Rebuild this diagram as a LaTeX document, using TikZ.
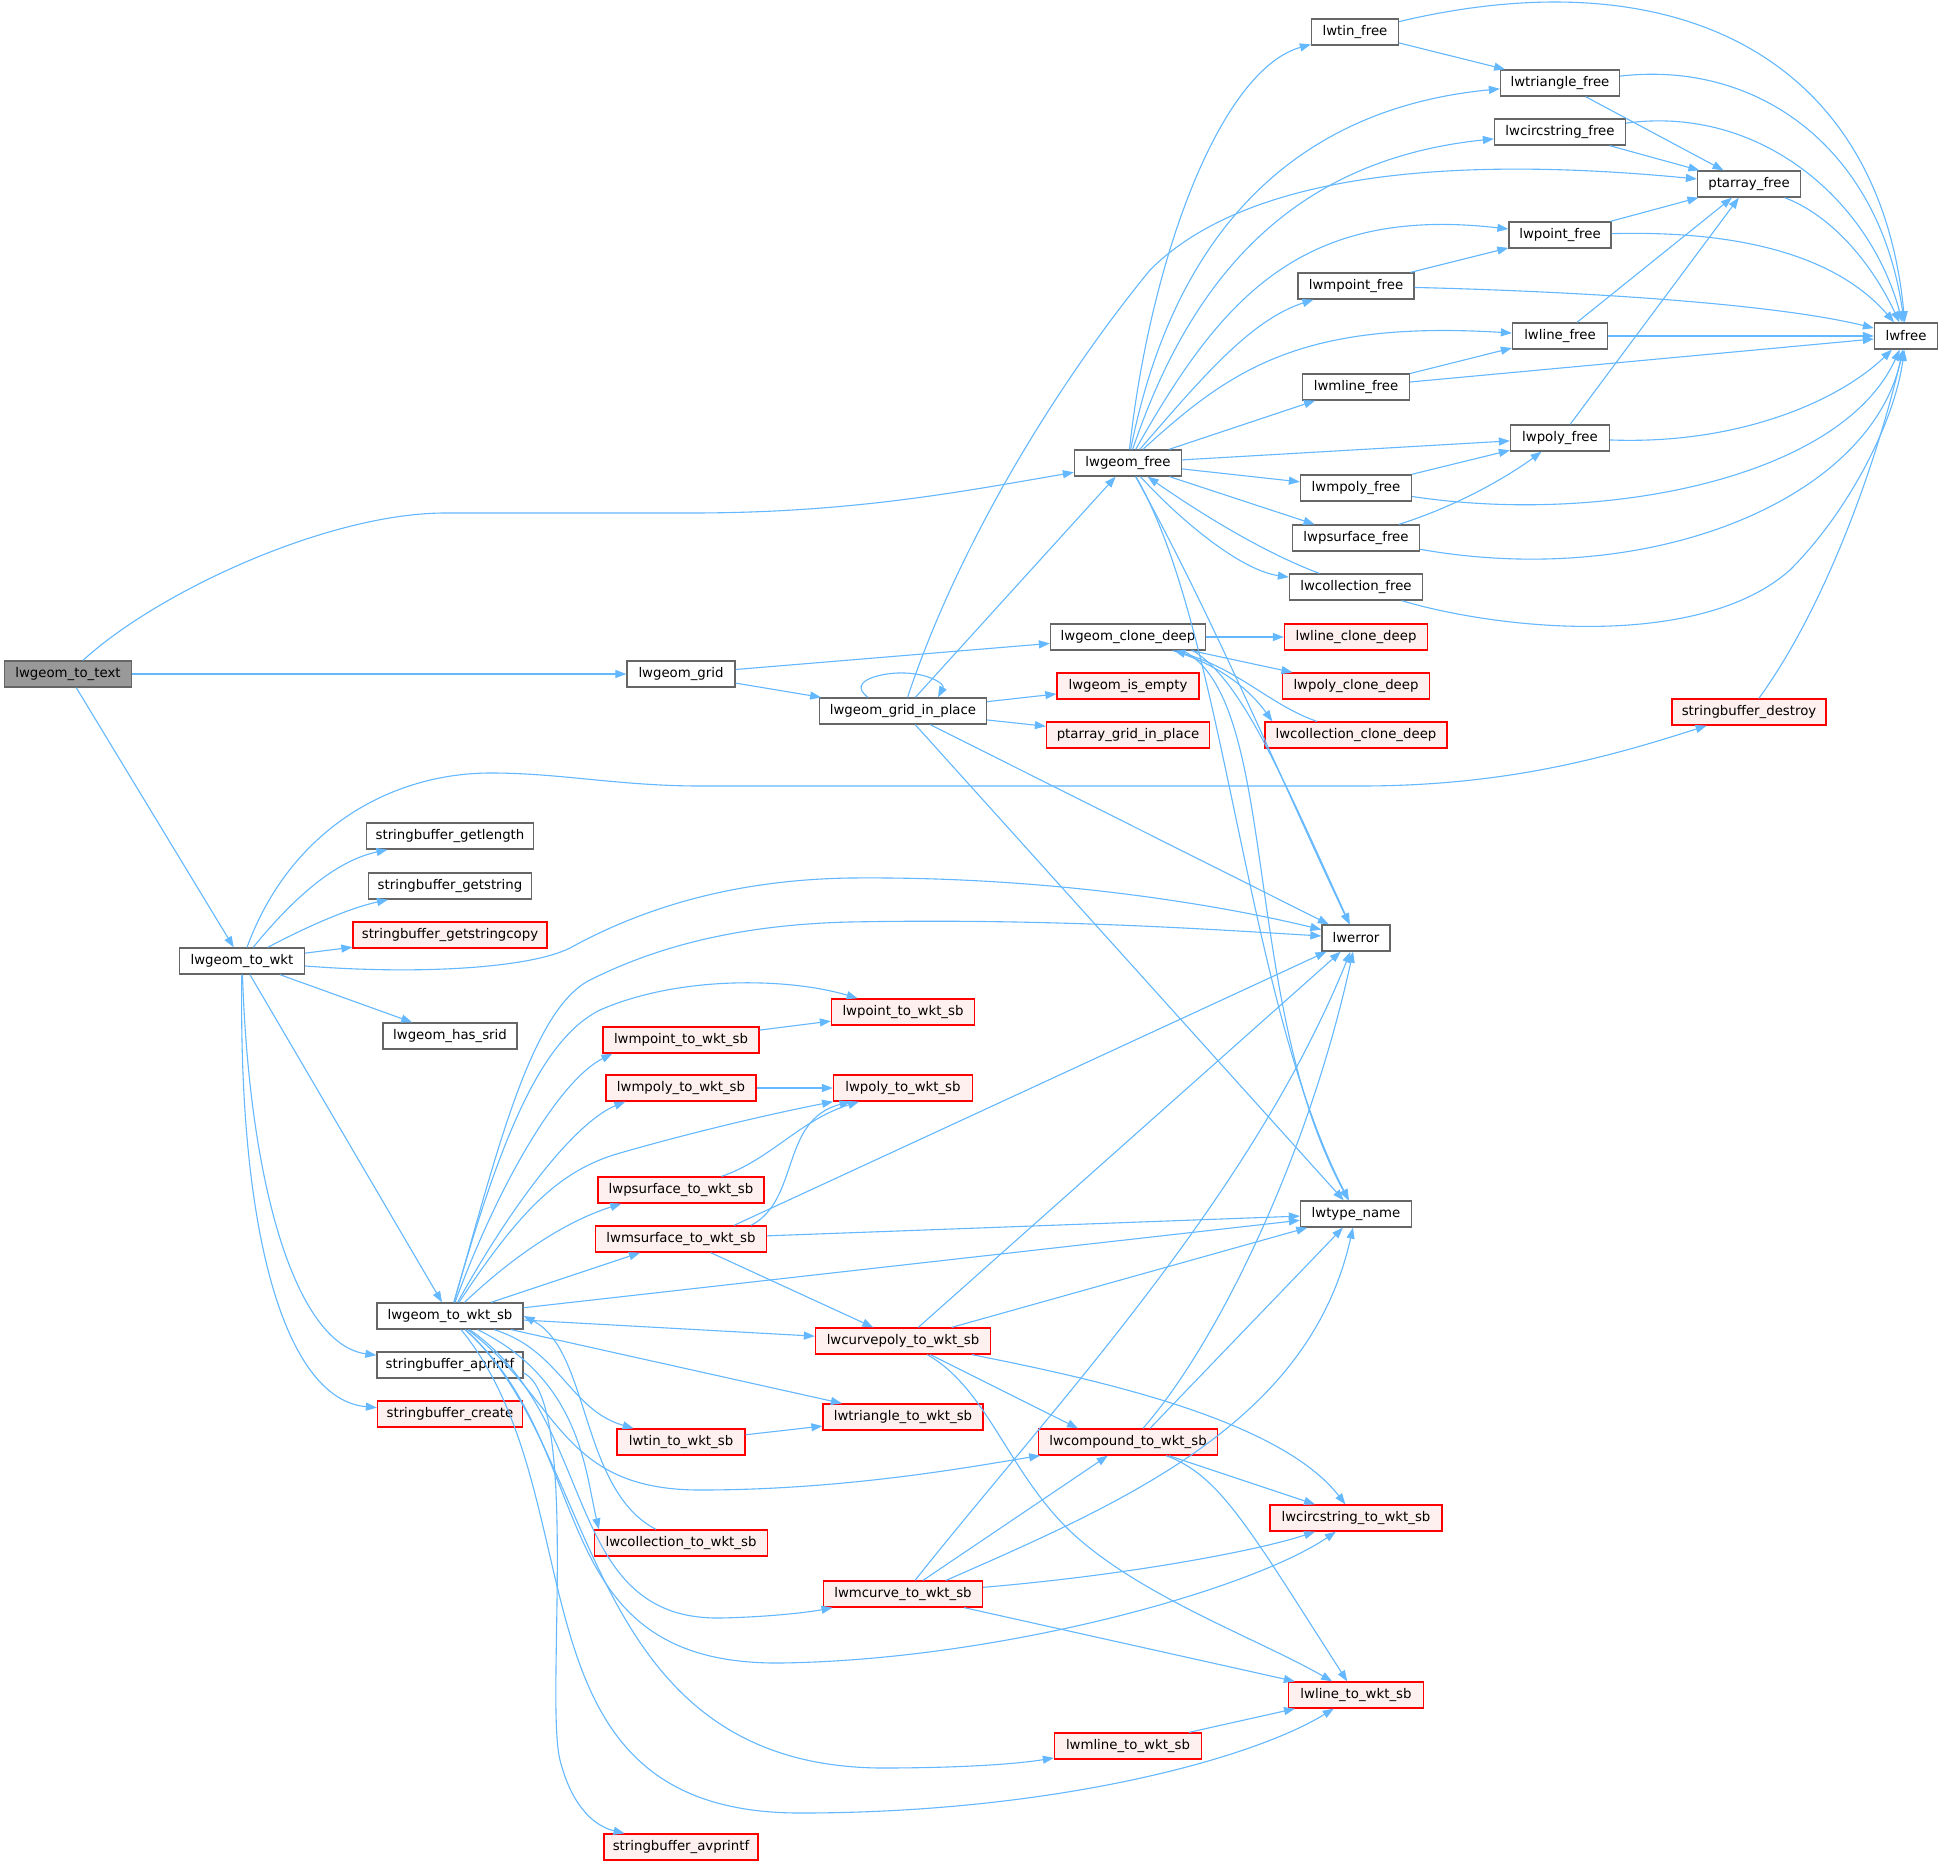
\documentclass[tikz,border=0pt]{standalone}
\usepackage{fontspec}
\setmainfont{DejaVu Sans}
\usetikzlibrary{arrows.meta}
\definecolor{edgec}{HTML}{63B8FF}
\definecolor{nodeb}{HTML}{666666}
\definecolor{redfill}{HTML}{FFF0F0}
\definecolor{rootfill}{HTML}{999999}
\begin{document}
\begin{tikzpicture}[x=1pt,y=-1pt,
  fn/.style={draw=nodeb, fill=white, line width=1.3pt, minimum height=26pt, inner sep=0pt, font=\fontsize{13.3}{16}\selectfont, text=black},
  rn/.style={fn, draw=red, fill=redfill},
  rootn/.style={fn, fill=rootfill},
  e/.style={draw=edgec, line width=1.1pt, -{Triangle[length=11pt,width=8pt]}}
]
\useasboundingbox[fill=white] (0,0) rectangle (1943,1865);

% nodes
\node[rootn, minimum width=127pt] (tt) at (68,674) {lwgeom\_to\_text};
\node[fn, minimum width=108pt] (grid) at (681,674) {lwgeom\_grid};
\node[fn, minimum width=167pt] (gip) at (903,711) {lwgeom\_grid\_in\_place};
\node[fn, minimum width=107pt] (gfree) at (1128,463) {lwgeom\_free};
\node[fn, minimum width=87pt] (tinf) at (1355,32) {lwtin\_free};
\node[fn, minimum width=119pt] (trif) at (1560,83) {lwtriangle\_free};
\node[fn, minimum width=131pt] (circf) at (1560,132) {lwcircstring\_free};
\node[fn, minimum width=103pt] (ptaf) at (1749,184) {ptarray\_free};
\node[fn, minimum width=102pt] (ptf) at (1560,235) {lwpoint\_free};
\node[fn, minimum width=116pt] (mptf) at (1356,286) {lwmpoint\_free};
\node[fn, minimum width=95pt] (linef) at (1560,336) {lwline\_free};
\node[fn, minimum width=63pt] (lwfree) at (1906,336) {lwfree};
\node[fn, minimum width=107pt] (mlinef) at (1356,387) {lwmline\_free};
\node[fn, minimum width=99pt] (polyf) at (1560,438) {lwpoly\_free};
\node[fn, minimum width=111pt] (mpolyf) at (1356,488) {lwmpoly\_free};
\node[fn, minimum width=127pt] (psurff) at (1356,538) {lwpsurface\_free};
\node[fn, minimum width=133pt] (collf) at (1356,587) {lwcollection\_free};
\node[fn, minimum width=155pt] (clone) at (1128,637) {lwgeom\_clone\_deep};
\node[rn, minimum width=143pt] (lclone) at (1356,637) {lwline\_clone\_deep};
\node[rn, minimum width=142pt] (isempty) at (1128,686) {lwgeom\_is\_empty};
\node[rn, minimum width=147pt] (pclone) at (1356,686) {lwpoly\_clone\_deep};
\node[rn, minimum width=163pt] (pgrid) at (1128,735) {ptarray\_grid\_in\_place};
\node[rn, minimum width=182pt] (cclone) at (1356,735) {lwcollection\_clone\_deep};
\node[rn, minimum width=154pt] (sbdestroy) at (1749,712) {stringbuffer\_destroy};
\node[fn, minimum width=125pt] (wkt) at (242,961) {lwgeom\_to\_wkt};
\node[fn, minimum width=167pt] (sbglen) at (450,836) {stringbuffer\_getlength};
\node[fn, minimum width=163pt] (sbgstr) at (450,886) {stringbuffer\_getstring};
\node[rn, minimum width=194pt] (sbgcopy) at (450,935) {stringbuffer\_getstringcopy};
\node[fn, minimum width=68pt] (lwerror) at (1356,938) {lwerror};
\node[fn, minimum width=134pt] (srid) at (450,1036) {lwgeom\_has\_srid};
\node[rn, minimum width=143pt] (ptwkt) at (903,1012) {lwpoint\_to\_wkt\_sb};
\node[rn, minimum width=156pt] (mptwkt) at (681,1040) {lwmpoint\_to\_wkt\_sb};
\node[rn, minimum width=150pt] (mpolywkt) at (681,1088) {lwmpoly\_to\_wkt\_sb};
\node[rn, minimum width=139pt] (polywkt) at (903,1088) {lwpoly\_to\_wkt\_sb};
\node[rn, minimum width=166pt] (psurfwkt) at (681,1190) {lwpsurface\_to\_wkt\_sb};
\node[rn, minimum width=171pt] (msurfwkt) at (681,1239) {lwmsurface\_to\_wkt\_sb};
\node[fn, minimum width=111pt] (typename) at (1356,1214) {lwtype\_name};
\node[fn, minimum width=146pt] (wktsb) at (450,1316) {lwgeom\_to\_wkt\_sb};
\node[rn, minimum width=175pt] (cpolywkt) at (903,1341) {lwcurvepoly\_to\_wkt\_sb};
\node[fn, minimum width=146pt] (aprintf) at (450,1365) {stringbuffer\_aprintf};
\node[rn, minimum width=145pt] (sbcreate) at (450,1414) {stringbuffer\_create};
\node[rn, minimum width=160pt] (triwkt) at (903,1417) {lwtriangle\_to\_wkt\_sb};
\node[rn, minimum width=128pt] (tinwkt) at (681,1442) {lwtin\_to\_wkt\_sb};
\node[rn, minimum width=179pt] (compwkt) at (1128,1442) {lwcompound\_to\_wkt\_sb};
\node[rn, minimum width=172pt] (circwkt) at (1356,1518) {lwcircstring\_to\_wkt\_sb};
\node[rn, minimum width=173pt] (collwkt) at (681,1543) {lwcollection\_to\_wkt\_sb};
\node[rn, minimum width=159pt] (mcurvewkt) at (903,1594) {lwmcurve\_to\_wkt\_sb};
\node[rn, minimum width=135pt] (linewkt) at (1356,1695) {lwline\_to\_wkt\_sb};
\node[rn, minimum width=147pt] (mlinewkt) at (1128,1746) {lwmline\_to\_wkt\_sb};
\node[rn, minimum width=154pt] (avprintf) at (681,1847) {stringbuffer\_avprintf};

% lwgeom_to_text
\draw[e] (tt) .. controls (160,590) and (330,513) .. (445,513) -- (691,513) .. controls (850,513) and (960,492) .. (gfree);
\draw[e] (tt) -- (grid);
\draw[e] (tt) -- (wkt);
% lwgeom_grid
\draw[e] (grid) -- (clone);
\draw[e] (grid) -- (gip);
% lwgeom_grid_in_place
\draw[e] ([xshift=-35pt]gip.north) .. controls (845,680) and (885,672) .. (905,673) .. controls (930,674) and (945,684) .. ([xshift=35pt]gip.north);
\draw[e] (gip) -- (gfree);
\draw[e] (gip) .. controls (960,540) and (1060,380) .. (1150,270) .. controls (1260,160) and (1500,160) .. (ptaf);
\draw[e] (gip) -- (isempty);
\draw[e] (gip) -- (pgrid);
\draw[e] (gip) -- (lwerror);
\draw[e] (gip) -- (typename);
% lwgeom_free
\draw[e] (gfree) .. controls (1150,260) and (1220,70) .. (tinf);
\draw[e] (gfree) .. controls (1170,250) and (1280,110) .. (trif);
\draw[e] (gfree) .. controls (1190,280) and (1290,160) .. (circf);
\draw[e] (gfree) .. controls (1220,300) and (1300,205) .. (ptf);
\draw[e] (gfree) .. controls (1200,380) and (1250,320) .. (mptf);
\draw[e] (gfree) .. controls (1230,370) and (1300,320) .. (linef);
\draw[e] (gfree) -- (mlinef);
\draw[e] (gfree) -- (polyf);
\draw[e] (gfree) -- (mpolyf);
\draw[e] (gfree) -- (psurff);
\draw[e] (gfree) .. controls (1180,520) and (1240,570) .. (collf);
\draw[e] (collf) .. controls (1270,555) and (1210,520) .. (gfree);
\draw[e] (gfree) .. controls (1215,620) and (1290,800) .. (lwerror);
\draw[e] (gfree) .. controls (1225,630) and (1245,1000) .. (typename);
% free functions
\draw[e] (tinf) -- (trif);
\draw[e] (tinf) .. controls (1680,-45) and (1880,60) .. (lwfree);
\draw[e] (trif) -- (ptaf);
\draw[e] (trif) .. controls (1760,60) and (1880,150) .. (lwfree);
\draw[e] (circf) -- (ptaf);
\draw[e] (circf) .. controls (1760,105) and (1870,200) .. (lwfree);
\draw[e] (ptaf) .. controls (1830,215) and (1870,260) .. (lwfree);
\draw[e] (ptf) -- (ptaf);
\draw[e] (ptf) .. controls (1750,230) and (1840,260) .. (lwfree);
\draw[e] (mptf) -- (ptf);
\draw[e] (mptf) .. controls (1600,292) and (1780,305) .. (lwfree);
\draw[e] (linef) -- (ptaf);
\draw[e] (linef) -- (lwfree);
\draw[e] (mlinef) -- (linef);
\draw[e] (mlinef) -- (lwfree);
\draw[e] (polyf) -- (ptaf);
\draw[e] (polyf) .. controls (1740,445) and (1840,400) .. (lwfree);
\draw[e] (mpolyf) -- (polyf);
\draw[e] (mpolyf) .. controls (1600,525) and (1840,480) .. (lwfree);
\draw[e] (psurff) .. controls (1460,505) and (1510,475) .. (polyf);
\draw[e] (psurff) .. controls (1650,590) and (1870,500) .. (lwfree);
\draw[e] (collf) .. controls (1500,630) and (1700,650) .. (1790,570) .. controls (1850,510) and (1895,420) .. (lwfree);
\draw[e] (sbdestroy) .. controls (1830,600) and (1880,450) .. (lwfree);
% clone
\draw[e] (clone) -- (lclone);
\draw[e] (clone) -- (pclone);
\draw[e] (clone) .. controls (1220,665) and (1250,690) .. ([xshift=8pt]cclone.north west);
\draw[e] (cclone) .. controls (1270,705) and (1240,670) .. (clone);
\draw[e] ([xshift=65pt]clone.south) .. controls (1240,680) and (1275,760) .. (lwerror);
\draw[e] ([xshift=55pt]clone.south) .. controls (1280,700) and (1240,1000) .. (typename);
% lwgeom_to_wkt
\draw[e] (wkt) .. controls (290,830) and (390,773) .. (491,773) .. controls (560,773) and (620,786) .. (700,786) -- (1360,786) .. controls (1500,786) and (1600,760) .. (sbdestroy);
\draw[e] (wkt) .. controls (300,890) and (340,860) .. (sbglen);
\draw[e] (wkt) .. controls (310,925) and (350,908) .. (sbgstr);
\draw[e] (wkt) -- (sbgcopy);
\draw[e] (wkt) .. controls (420,975) and (530,968) .. (570,948) .. controls (630,915) and (720,880) .. (850,878) .. controls (1050,876) and (1220,905) .. (lwerror);
\draw[e] (wkt) -- (srid);
\draw[e] (wkt) -- (wktsb);
\draw[e] (wkt) .. controls (250,1200) and (300,1345) .. (aprintf);
\draw[e] (wkt) .. controls (238,1250) and (290,1400) .. (sbcreate);
% lwgeom_to_wkt_sb
\draw[e] (wktsb) .. controls (495,1160) and (530,1010) .. (590,980) .. controls (640,955) and (720,925) .. (850,922) .. controls (1050,918) and (1220,930) .. (lwerror);
\draw[e] (wktsb) .. controls (500,1140) and (540,1040) .. (600,1010) .. controls (680,975) and (790,978) .. (ptwkt);
\draw[e] (wktsb) .. controls (500,1180) and (560,1080) .. ([xshift=10pt]mptwkt.south west);
\draw[e] (wktsb) .. controls (520,1190) and (580,1120) .. ([xshift=20pt]mpolywkt.south west);
\draw[e] (wktsb) .. controls (520,1210) and (560,1170) .. (620,1153) .. controls (700,1130) and (780,1112) .. (polywkt);
\draw[e] (wktsb) .. controls (520,1250) and (570,1220) .. ([xshift=24pt]psurfwkt.south west);
\draw[e] (wktsb) -- (msurfwkt);
\draw[e] (wktsb) -- (typename);
\draw[e] (wktsb) -- (cpolywkt);
\draw[e] (wktsb) -- (triwkt);
\draw[e] (wktsb) .. controls (560,1350) and (570,1410) .. (tinwkt);
\draw[e] (wktsb) .. controls (560,1400) and (560,1490) .. (700,1490) .. controls (850,1490) and (980,1465) .. (compwkt);
\draw[e] (wktsb) .. controls (580,1380) and (585,1470) .. ([xshift=5pt]collwkt.north west);
\draw[e] ([xshift=-25pt]collwkt.north) .. controls (580,1490) and (590,1350) .. (wktsb.east);
\draw[e] (wktsb) .. controls (600,1420) and (560,1620) .. (720,1618) .. controls (770,1617) and (810,1612) .. (mcurvewkt);
\draw[e] (wktsb) .. controls (600,1450) and (540,1665) .. (780,1663) .. controls (1000,1660) and (1250,1590) .. (circwkt);
\draw[e] (wktsb) .. controls (600,1500) and (500,1813) .. (800,1813) .. controls (1050,1813) and (1250,1760) .. (linewkt);
\draw[e] (wktsb) .. controls (600,1450) and (580,1765) .. (880,1768) .. controls (950,1768) and (1010,1765) .. (mlinewkt);
\draw[e] ([yshift=-8pt]aprintf.east) .. controls (580,1400) and (545,1700) .. (560,1760) .. controls (570,1800) and (590,1825) .. (avprintf);
% middle
\draw[e] (mptwkt) -- (ptwkt);
\draw[e] (mpolywkt) -- (polywkt);
\draw[e] (psurfwkt) .. controls (770,1160) and (800,1120) .. (polywkt);
\draw[e] ([xshift=70pt]msurfwkt.north) .. controls (800,1200) and (780,1120) .. (polywkt);
\draw[e] ([xshift=53pt]msurfwkt.north) -- (lwerror);
\draw[e] (msurfwkt) -- (typename);
\draw[e] (msurfwkt) -- (cpolywkt);
\draw[e] (cpolywkt) -- (lwerror);
\draw[e] (cpolywkt) -- (typename);
\draw[e] (cpolywkt) .. controls (1100,1380) and (1280,1420) .. (circwkt);
\draw[e] (cpolywkt) -- ([xshift=-50pt]compwkt.north);
\draw[e] (cpolywkt) .. controls (990,1390) and (1010,1480) .. (1080,1540) .. controls (1150,1600) and (1260,1640) .. (linewkt);
\draw[e] (tinwkt) -- (triwkt);
\draw[e] ([xshift=15pt]compwkt.north) .. controls (1220,1340) and (1310,1150) .. (lwerror);
\draw[e] ([xshift=22pt]compwkt.north) -- (typename);
\draw[e] (compwkt) -- (circwkt);
\draw[e] (compwkt) .. controls (1220,1475) and (1250,1530) .. (linewkt);
\draw[e] ([xshift=12pt]mcurvewkt.north) .. controls (1050,1410) and (1250,1200) .. (lwerror);
\draw[e] ([xshift=20pt]mcurvewkt.north) -- (compwkt);
\draw[e] ([xshift=43pt]mcurvewkt.north) .. controls (1130,1500) and (1310,1420) .. (typename);
\draw[e] (mcurvewkt) .. controls (1130,1575) and (1260,1550) .. (circwkt);
\draw[e] (mcurvewkt) -- (linewkt);
\draw[e] (mlinewkt) -- (linewkt);
\end{tikzpicture}
\end{document}
